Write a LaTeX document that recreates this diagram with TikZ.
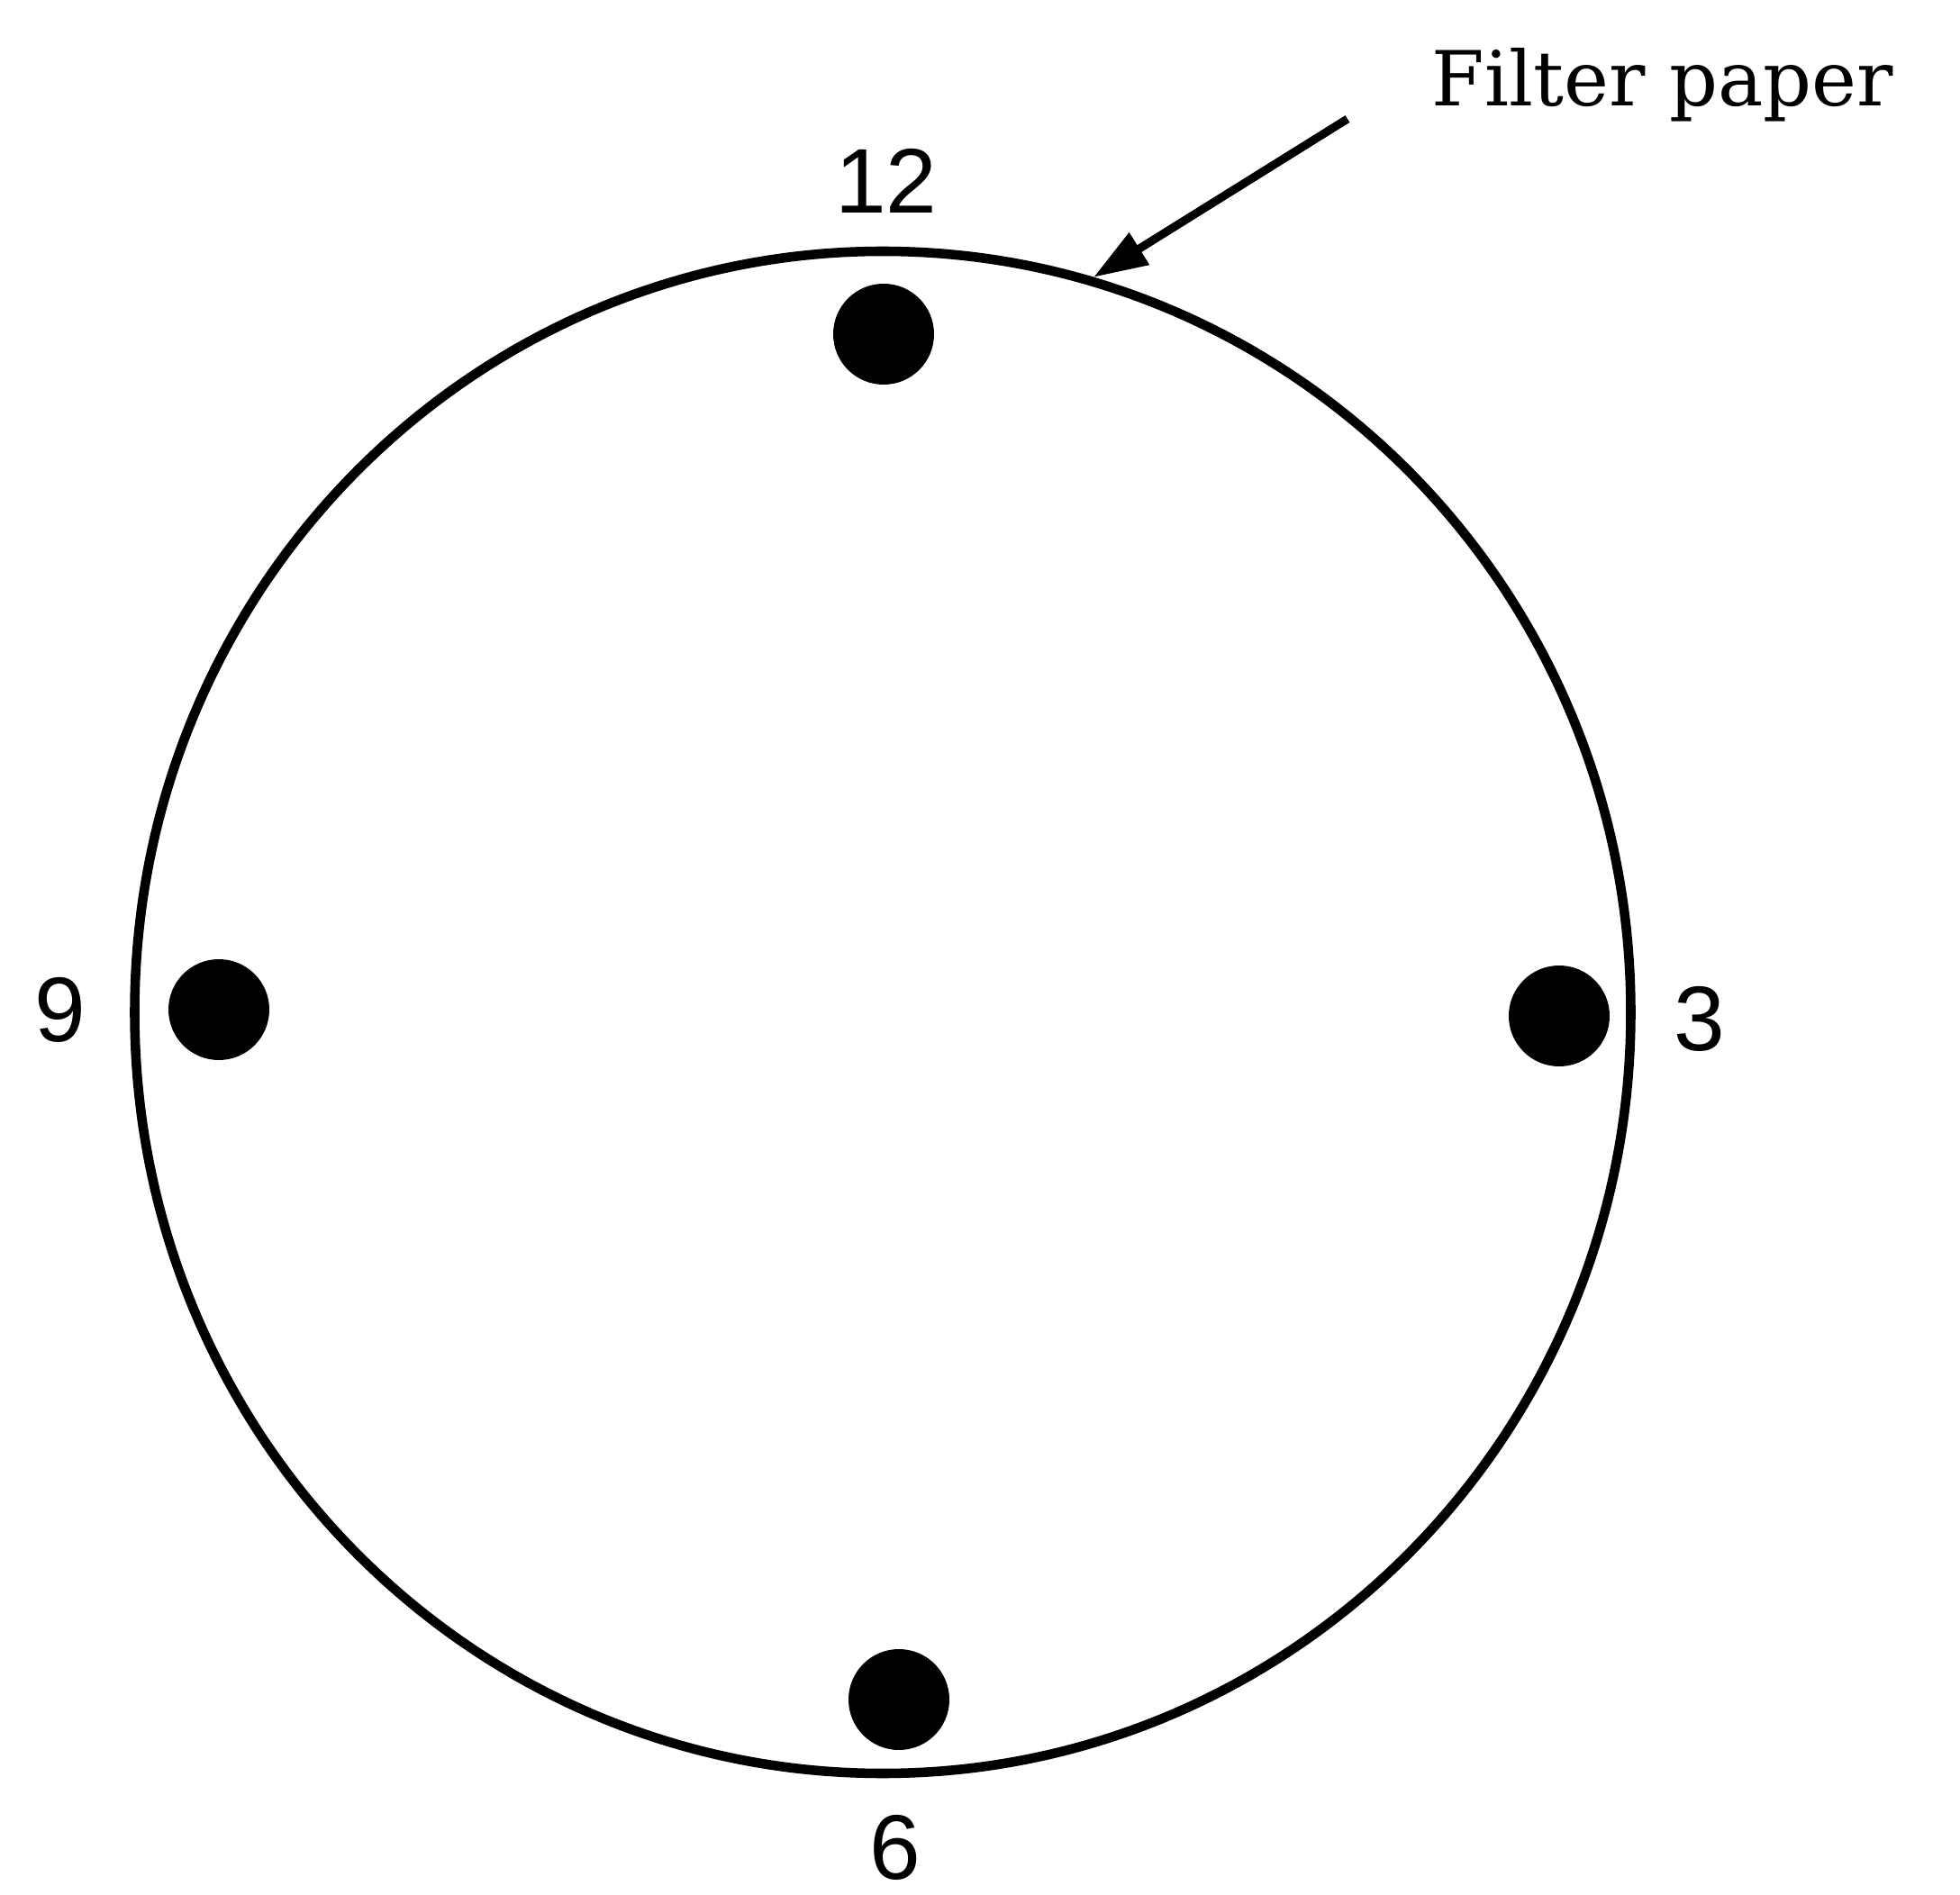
\documentclass[tikz,border=0pt]{standalone}
\usepackage{fontspec}
\setmainfont{Liberation Sans}
\newfontfamily\paperfont{DejaVu Serif}
\usetikzlibrary{arrows.meta,shapes.geometric}

\begin{document}
\begin{tikzpicture}
		\tikzstyle{every node}=[font=\fontsize{29}{34}\selectfont,inner sep=0pt]
		\tikzstyle{spot}=[circle,fill=black,inner sep=0pt,minimum size=1.12cm]
		\useasboundingbox (0,0) rectangle (21.76,21.03);
		\node[ellipse,draw,line width=3pt,inner sep=0pt,minimum width=16.61cm,minimum height=16.9cm] (paper) at (9.80,9.79) {};
		% spots on the paper
		\node[spot] (s12) at (9.81,17.32) {};
		\node[spot] (s9) at (2.43,9.82) {};
		\node[spot] (s3) at (17.31,9.75) {};
		\node[spot] (s6) at (9.98,2.16) {};
		% clock numbers
		\node (n12) at (9.84,19.02) {12};
		\node (n9) at (0.67,9.82) {9};
		\node (n3) at (18.87,9.72) {3};
		\node (n6) at (9.94,0.52) {6};
		\node[anchor=base west,font=\paperfont\fontsize{24}{29}\selectfont] (lbl) at (15.89,19.85) {Filter paper};
		\coordinate (tail) at (14.96,19.71);
		\draw[line width=2.6pt,-{Triangle[length=6mm,width=4mm]}] (tail) -- (paper.74);
	\end{tikzpicture}
\end{document}
